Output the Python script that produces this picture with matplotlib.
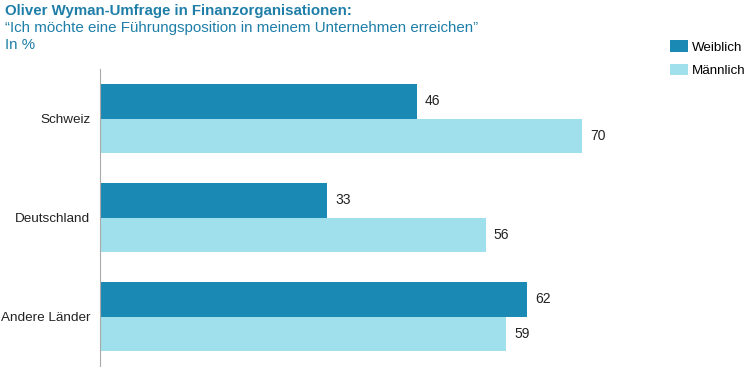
import matplotlib.pyplot as plt
import numpy as np

plt.rcParams['font.family'] = ['Liberation Sans', 'DejaVu Sans']

# Daten
laender = ["Schweiz", "Deutschland", "Andere Länder"]
weiblich = [46, 33, 62]
maennlich = [70, 56, 59]

c_dark = "#1a8ab4"
c_light = "#a0dfec"
c_title = "#1f7ea8"

fig = plt.figure(figsize=(7.5, 3.73), dpi=100)
ax = fig.add_axes([100/750, 7/373, 600/750, 297/373])

y = np.arange(len(laender))
h = 0.35
b1 = ax.barh(y - h/2, weiblich, height=h, color=c_dark, label="Weiblich")
b2 = ax.barh(y + h/2, maennlich, height=h, color=c_light, label="Männlich")

for bars, vals in [(b1, weiblich), (b2, maennlich)]:
    for r, v in zip(bars, vals):
        ax.text(r.get_width() + 1.2, r.get_y() + r.get_height()/2, str(v),
                va="center", ha="left", fontsize=10, color="#222222")

ax.set_xlim(0, 600/6.886)
ax.set_ylim(2.5, -0.5)
ax.set_yticks(y)
ax.set_yticklabels(laender, fontsize=9.7, color="#222222")
ax.tick_params(axis="y", length=0, pad=7)
ax.set_xticks([])
for s in ["top", "right", "bottom"]:
    ax.spines[s].set_visible(False)
ax.spines["left"].set_color("#aaaaaa")

fig.text(5/750, 1 - 11/373, "Oliver Wyman-Umfrage in Finanzorganisationen:",
         fontsize=10.8, fontweight="bold", color=c_title, va="center", ha="left")
fig.text(5/750, 1 - 28/373, "“Ich möchte eine Führungsposition in meinem Unternehmen erreichen”",
         fontsize=10.9, color=c_title, va="center", ha="left")
fig.text(5/750, 1 - 45/373, "In %",
         fontsize=10.9, color=c_title, va="center", ha="left")

fig.legend(handles=[b1, b2], loc="upper left", bbox_to_anchor=(670/750, 1 - 40/373),
           frameon=False, fontsize=9.6, handlelength=1.35, handleheight=1.0,
           handletextpad=0.3, labelspacing=0.75, borderaxespad=0, borderpad=0)

fig.savefig("out.png", dpi=100)
